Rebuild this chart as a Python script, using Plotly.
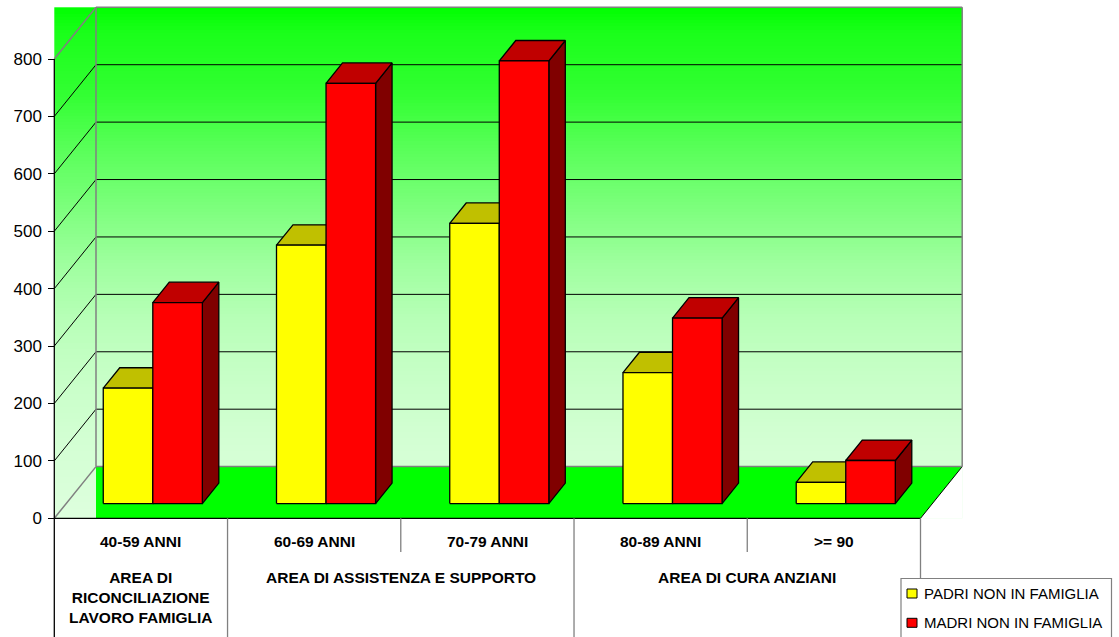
import numpy as np
import plotly.graph_objects as go

# ---- data -------------------------------------------------------------
categories = ["40-59 ANNI", "60-69 ANNI", "70-79 ANNI", "80-89 ANNI", ">= 90"]
group_labels = [
    "AREA DI<br>RICONCILIAZIONE<br>LAVORO FAMIGLIA",
    "AREA DI ASSISTENZA E SUPPORTO",
    "AREA DI CURA ANZIANI",
]
group_spans = [(0, 1), (1, 3), (3, 5)]
series_names = ["PADRI NON IN FAMIGLIA", "MADRI NON IN FAMIGLIA"]
padri = [201, 450, 488, 228, 37]
madri = [350, 732, 771, 323, 75]
y_ticks = [0, 100, 200, 300, 400, 500, 600, 700, 800]

# ---- styling ----------------------------------------------------------
FACE = {"front": ["#FFFF00", "#FF0000"],
        "top": ["#C0C000", "#C00000"],
        "side": ["#808000", "#800000"]}
FONT = "Liberation Sans, Arial, sans-serif"
GRAY = "#808080"
# wall shading: fraction down the wall -> red/blue level (green stays 255)
SHADE_T = [0.0, 0.045, 0.17, 0.28, 0.394, 0.507, 0.618, 0.73, 0.841, 1.0]
SHADE_V = [0, 25, 50, 90, 125, 160, 185, 200, 210, 222]

W, H = 1119, 637
# front plane of the 3-D box in pixels (category 0..5, value 0..800)
FX0, FX1 = 54.3, 920.5
FY0, FY800 = 518.3, 59.0
XPP = len(categories) / (FX1 - FX0)      # category units per pixel
YPP = 800 / (FY0 - FY800)                # value units per pixel
DX, DY = 41.7 * XPP, 51.7 * YPP          # full depth of the box
N = len(categories)
YMAX = max(y_ticks)
BAR_W = 0.286                            # bar width in category units
F0, FD = 0.285, 0.395                    # bar front depth, bar depth


def ypx(py):
    return (FY0 - py) * YPP


def px(x):
    return x / W


def py(y):
    return 1 - y / H


def pt(x, v, f):
    return x + f * DX, v + f * DY


def poly_trace(polys, fill, line="black", lw=1.0, name=None):
    xs, ys = [], []
    for p in polys:
        for (a, b) in p + [p[0]]:
            xs.append(a)
            ys.append(b)
        xs.append(None)
        ys.append(None)
    return go.Scatter(x=xs, y=ys, mode="lines", fill="toself", fillcolor=fill,
                      line=dict(color=line, width=lw), hoverinfo="skip",
                      showlegend=False, name=name)


def line_trace(segs, color, lw=1.0):
    xs, ys = [], []
    for (a, b) in segs:
        xs += [a[0], b[0], None]
        ys += [a[1], b[1], None]
    return go.Scatter(x=xs, y=ys, mode="lines", line=dict(color=color, width=lw),
                      hoverinfo="skip", showlegend=False)


fig = go.Figure()

# ---- wall gradient (green fading to pale green) ----------------------
def wall_color(t):
    v = int(round(np.interp(t, SHADE_T, SHADE_V)))
    return f"rgb({v},255,{v})"


ytop = YMAX + DY
rows = 160
y_edges = np.linspace(0, ytop, rows + 1)
t_rows = (ytop - (y_edges[:-1] + y_edges[1:]) / 2) / ytop
stops = np.linspace(0, 1, 41)
fig.add_trace(go.Heatmap(
    x=[0, N + DX], y=y_edges, z=[[t] for t in t_rows], zmin=0, zmax=1,
    colorscale=[[float(s), wall_color(s)] for s in stops],
    showscale=False, hoverinfo="skip"))

# white corner right of the floor
fig.add_trace(poly_trace([[(N, 0), (N + DX, DY), (N + DX, 0)]], "white", line="white", lw=0))
# floor
fig.add_trace(poly_trace([[(DX, DY), (N + DX, DY), (N, 0), (DX, 0)]], "#00FF00", line="#00FF00", lw=0))
fig.add_trace(line_trace([((N, 0), (N + DX, DY))], "black", 1))

# gridlines on back and side walls
grid = [v for v in y_ticks if 0 < v < YMAX]
segs = [((DX, v + DY), (N + DX, v + DY)) for v in grid]
segs += [((0, v), (DX, v + DY)) for v in grid]
fig.add_trace(line_trace(segs, "black", 1))

# wall borders
border = [((DX, DY), (DX, YMAX + DY)), ((DX, YMAX + DY), (N + DX, YMAX + DY)),
          ((N + DX, YMAX + DY), (N + DX, DY)), ((DX, DY), (N + DX, DY)),
          ((0, YMAX), (DX, YMAX + DY)), ((0, 0), (DX, DY))]
fig.add_trace(line_trace(border, GRAY, 1.5))

# ---- 3-D bars -----------------------------------------------------------
for s, vals in enumerate([padri, madri]):
    fronts, tops, sides = [], [], []
    for i, v in enumerate(vals):
        x0 = i + 0.5 - BAR_W + s * BAR_W
        x1 = x0 + BAR_W
        fronts.append([pt(x0, 0, F0), pt(x1, 0, F0), pt(x1, v, F0), pt(x0, v, F0)])
        tops.append([pt(x0, v, F0), pt(x1, v, F0), pt(x1, v, F0 + FD), pt(x0, v, F0 + FD)])
        sides.append([pt(x1, 0, F0), pt(x1, 0, F0 + FD), pt(x1, v, F0 + FD), pt(x1, v, F0)])
    fig.add_trace(poly_trace(sides, FACE["side"][s], lw=1.3))
    fig.add_trace(poly_trace(tops, FACE["top"][s], lw=1.3))
    fig.add_trace(poly_trace(fronts, FACE["front"][s], lw=1.3, name=series_names[s]))

# ---- category table under the chart -----------------------------------
ybot = ypx(H + 5)
short = ypx(552)
fig.add_trace(line_trace([((0, 0), (N, 0))], "black", 1.3))
fig.add_trace(line_trace([((0, YMAX), (0, ybot))], "black", 1.3))
div = []
for k in range(1, N + 1):
    inner = any(a < k < b for a, b in group_spans)
    div.append(((k, 0), (k, short if inner else ybot)))
fig.add_trace(line_trace(div, GRAY, 1.3))

ann = []
for i, c in enumerate(categories):
    ann.append(dict(x=i + 0.5, y=py(541.5), xref="x", yref="paper", text=c,
                    showarrow=False, xanchor="center", yanchor="middle",
                    font=dict(family=FONT, size=15.5, color="black", weight="bold")))
for (a, b), g in zip(group_spans, group_labels):
    ann.append(dict(x=(a + b) / 2, y=py(566.5), xref="x", yref="paper", text=g,
                    showarrow=False, xanchor="center", yanchor="top", align="center",
                    font=dict(family=FONT, size=15.5, color="black", weight="bold")))

# ---- legend box ----------------------------------------------------------
shapes = [dict(type="rect", xref="paper", yref="paper", x0=px(901), x1=px(1111.5),
               y0=py(645), y1=py(578.5), line=dict(color=GRAY, width=1.2),
               fillcolor="white", layer="above")]
for s, (yc, name) in enumerate(zip([593.5, 622.8], series_names)):
    shapes.append(dict(type="rect", xref="paper", yref="paper", x0=px(907), x1=px(917),
                       y0=py(yc + 4.5), y1=py(yc - 4.5), line=dict(color="black", width=1),
                       fillcolor=FACE["front"][s], layer="above"))
    ann.append(dict(x=px(922), y=py(yc), xref="paper", yref="paper", text=name,
                    showarrow=False, xanchor="left", yanchor="middle",
                    font=dict(family=FONT, size=15, color="black")))

fig.update_layout(
    width=W, height=H, margin=dict(l=0, r=0, t=0, b=0),
    paper_bgcolor="white", plot_bgcolor="white", showlegend=False,
    xaxis=dict(range=[-FX0 * XPP, (W - FX0) * XPP], visible=False, fixedrange=True),
    yaxis=dict(range=[ypx(H), ypx(0)], anchor="free", position=FX0 / W,
               tickvals=y_ticks, ticktext=[str(v) for v in y_ticks],
               ticks="outside", ticklen=6, tickcolor="black", tickwidth=1,
               showgrid=False, zeroline=False, showline=False,
               ticklabelstandoff=3,
               tickfont=dict(family=FONT, size=17, color="black"), fixedrange=True),
    annotations=ann, shapes=shapes,
)

fig.write_html("out.html")
